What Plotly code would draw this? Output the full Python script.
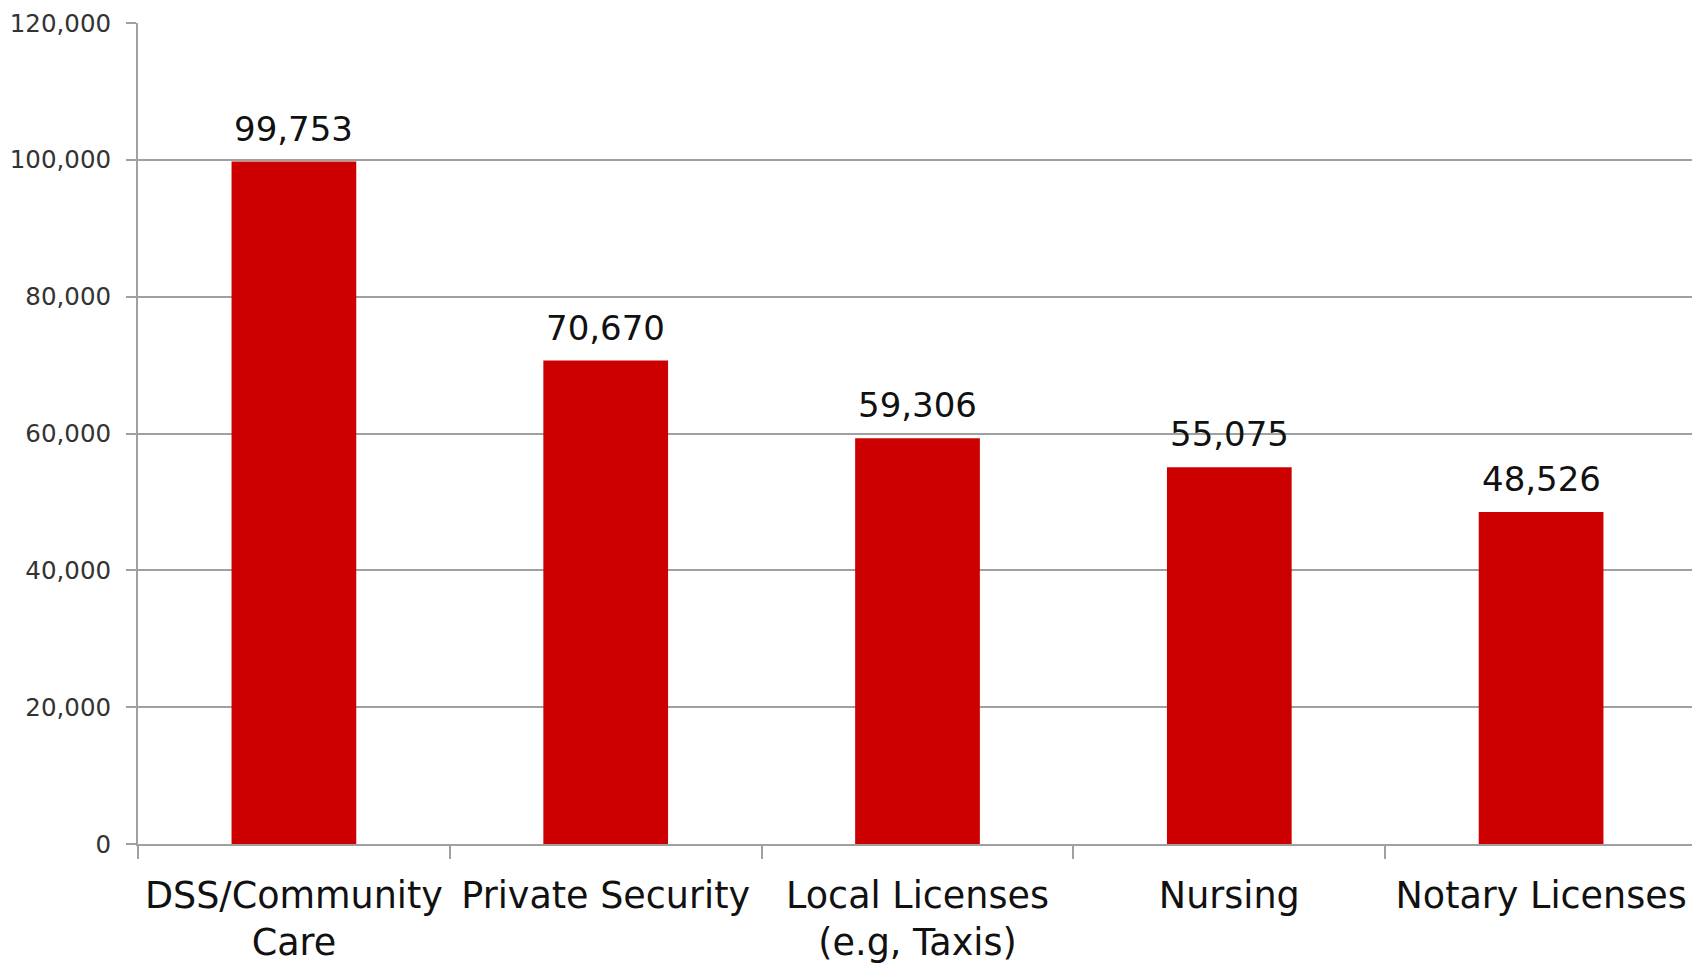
import plotly.graph_objects as go

categories = ["DSS/Community<br>Care", "Private Security", "Local Licenses<br>(e.g, Taxis)", "Nursing", "Notary Licenses"]
values = [99753, 70670, 59306, 55075, 48526]
y_ticks = [0, 20000, 40000, 60000, 80000, 100000, 120000]
y_tick_labels = ["0", "20,000", "40,000", "60,000", "80,000", "100,000", "120,000"]

fig = go.Figure()
fig.add_trace(go.Bar(
    x=categories, y=values,
    marker=dict(color="#CC0000", line=dict(width=0)),
    hoverinfo="skip",
))

for c, v in zip(categories, values):
    fig.add_annotation(
        x=c, y=v, text=f"{v:,}", showarrow=False,
        yanchor="bottom", yshift=11,
        font=dict(family="DejaVu Sans", size=34, color="#111111"),
    )

fig.update_layout(
    width=1700, height=965,
    margin=dict(l=130, r=11, t=15, b=129),
    paper_bgcolor="white", plot_bgcolor="white",
    bargap=0.6,
    showlegend=False,
    font=dict(family="DejaVu Sans"),
)
fig.update_xaxes(
    type="category",
    tickson="boundaries",
    ticks="outside", ticklen=13, tickcolor="#a0a0a0", tickwidth=2,
    showline=True, linecolor="#a0a0a0", linewidth=2,
    showgrid=False,
    tickangle=0, automargin=False, ticklabeloverflow="allow",
    ticklabelstandoff=18,
    tickfont=dict(family="DejaVu Sans", size=36.5, color="#111111"),
    range=[-0.5, 4.5],
)
fig.update_yaxes(
    range=[0, 120000],
    tickvals=y_ticks, ticktext=y_tick_labels,
    ticks="outside", ticklen=10, tickcolor="#a0a0a0", tickwidth=2,
    showline=True, linecolor="#a0a0a0", linewidth=2,
    showgrid=True, gridcolor="#a0a0a0", gridwidth=1.5,
    zeroline=False, automargin=False, ticklabeloverflow="allow",
    ticklabelstandoff=10,
    tickfont=dict(family="DejaVu Sans", size=24.5, color="#333333"),
)

fig.write_html("out.html")
